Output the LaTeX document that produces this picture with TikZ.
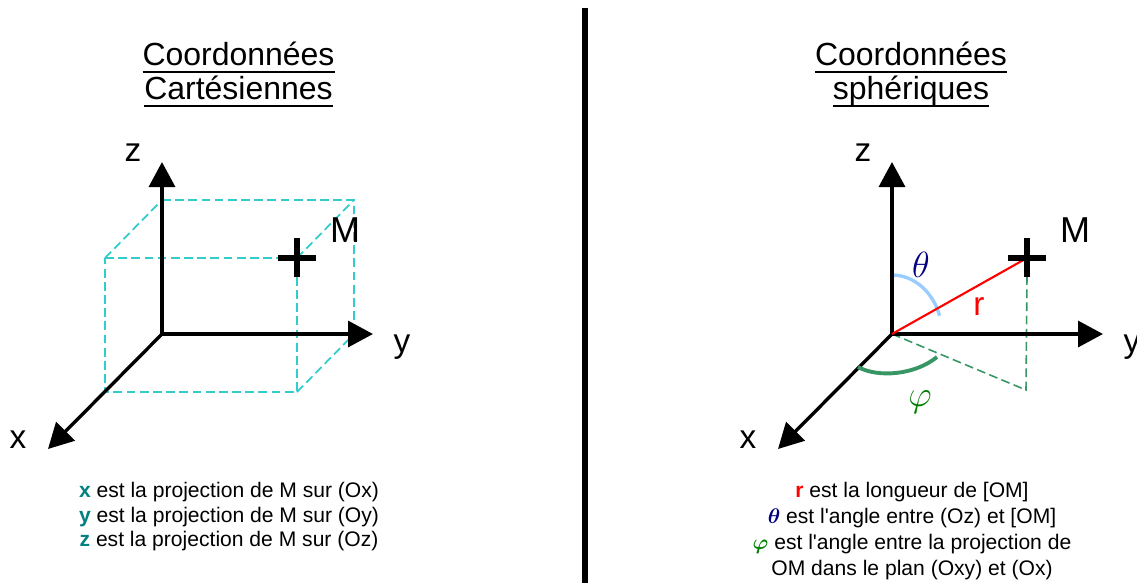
\documentclass[tikz,border=0pt]{standalone}
\usepackage{fontspec}
\setmainfont{Liberation Sans}[Ligatures=TeXOff]
\usepackage{xcolor}
\usetikzlibrary{arrows.meta,positioning,calc}
\definecolor{turq}{RGB}{51,204,204}
\definecolor{ciel}{RGB}{153,204,255}
\definecolor{vertarc}{RGB}{56,150,100}
\definecolor{vertphi}{RGB}{0,128,0}
\definecolor{marine}{RGB}{0,0,128}
\definecolor{sarcelle}{RGB}{0,128,128}
\newcommand{\souligne}[1]{\vtop{\setbox0\hbox{#1}\dp0=0pt\box0\kern3.2pt\hrule height 1.5pt}}

\begin{document}
\begin{tikzpicture}[x=0.02cm,y=-0.02cm,
  axe/.style={line width=1.9pt,-{Triangle[length=0.5cm,width=0.52cm]}},
  cube/.style={draw=turq,line width=1pt,dash pattern=on 5pt off 2.5pt},
  proj/.style={draw=vertarc,line width=0.9pt,dash pattern=on 5pt off 2.5pt},
  croix/.style={line width=2.9pt},
  titre/.style={anchor=base,inner sep=0pt,font=\fontsize{18.2}{20}\selectfont},
  lab/.style={inner sep=0pt,font=\fontsize{19}{19}\selectfont},
  grec/.style={inner sep=0pt,font=\fontsize{20.74}{20.74}\selectfont},
  legende/.style={anchor=north,inner sep=0pt,align=center}
]
  \useasboundingbox (0,0) rectangle (1137,583);
  % separation
  \coordinate (sh) at (585,8);
  \coordinate (sb) at (585,583);
  \draw[line width=3.4pt] (sh) -- (sb);

  % titres
  \node[titre] (t1a) at (238.5,65) {\souligne{Coordonnées}};
  \node[titre] (t1b) at (238.5,99) {\souligne{Cartésiennes}};
  \node[titre] (t2a) at (911,65) {\souligne{Coordonnées}};
  \node[titre] (t2b) at (911,99) {\souligne{sphériques}};

  % cartesiennes
  \coordinate (O1) at (162,334);
  \coordinate (A) at (105,258);
  \coordinate (M1) at (297,258);
  \coordinate (C) at (297,392);
  \coordinate (D) at (105,392);
  \coordinate (E) at (162,200);
  \coordinate (F) at (354,200);
  \coordinate (G) at (354,334);
  \draw[cube] (A) -- (M1) -- (C) -- (D) -- cycle;
  \draw[cube] (E) -- (F) -- (G) -- (O1) -- cycle;
  \draw[cube] (A) -- (E) (M1) -- (F) (C) -- (G) (D) -- (O1);
  \coordinate (z1) at (162,162);
  \coordinate (y1) at (373,334);
  \coordinate (x1) at (48,449);
  \draw[axe] (O1) -- (z1);
  \draw[axe] (O1) -- (y1);
  \draw[axe] (O1) -- (x1);
  \draw[croix] ($(M1)+(-19,0)$) -- ($(M1)+(19,0)$);
  \draw[croix] ($(M1)+(0,-20)$) -- ($(M1)+(0,19)$);
  \node[lab] (lz1) at (133,153) {z};
  \node[lab] (ly1) at (402,347) {y};
  \node[lab] (lx1) at (18,440) {x};
  \node[lab,font=\fontsize{20.5}{20.5}\selectfont] (lM1) at (345,230) {M};
  \node[legende,font=\fontsize{12}{14}\selectfont] (txt1) at (229,482)
    {\textcolor{sarcelle}{\textbf{x}} est la projection de M sur (Ox)\\
     \textcolor{sarcelle}{\textbf{y}} est la projection de M sur (Oy)\\
     \textcolor{sarcelle}{\textbf{z}} est la projection de M sur (Oz)};

  % spheriques
  \coordinate (O2) at (892,334);
  \coordinate (M2) at (1027,258);
  \coordinate (P2) at (1026,390);
  \draw[proj] (O2) -- (P2) -- ($(M2)+(0,19)$);
  \draw[ciel,line width=1.9pt] (O2) ++(0,-59) arc[start angle=-90,end angle=-18,x radius=50,y radius=59];
  \coordinate (z2) at (892,162);
  \coordinate (y2) at (1103,334);
  \coordinate (x2) at (778,449);
  \draw[axe] (O2) -- (z2);
  \draw[axe] (O2) -- (y2);
  \draw[axe] (O2) -- (x2);
  \draw[vertarc,line width=2.2pt] (858,367) .. controls (878,378) and (915,375) .. (937,357);
  \draw[red,line width=1.2pt] (O2) -- (M2);
  \draw[croix] ($(M2)+(-19,0)$) -- ($(M2)+(19,0)$);
  \draw[croix] ($(M2)+(0,-20)$) -- ($(M2)+(0,19)$);
  \node[lab] (lz2) at (863,153) {z};
  \node[lab] (ly2) at (1132,347) {y};
  \node[lab] (lx2) at (748,440) {x};
  \node[lab,font=\fontsize{20.5}{20.5}\selectfont] (lM2) at (1075,230) {M};
  \node[lab,red] (lr) at (979,307) {r};
  \node[grec,marine] (lth) at (921,265) {$\theta$};
  \node[grec,vertphi] (lph) at (920,402) {$\varphi$};
  \node[legende,font=\fontsize{12}{14.8}\selectfont] (txt2) at (912,482)
    {\textcolor{red}{\textbf{r}} est la longueur de [OM]\\
     \textcolor{marine}{\boldmath$\theta$} est l'angle entre (Oz) et [OM]\\
     \textcolor{vertphi}{\boldmath$\varphi$} est l'angle entre la projection de\\
     OM dans le plan (Oxy) et (Ox)};
\end{tikzpicture}
\end{document}
